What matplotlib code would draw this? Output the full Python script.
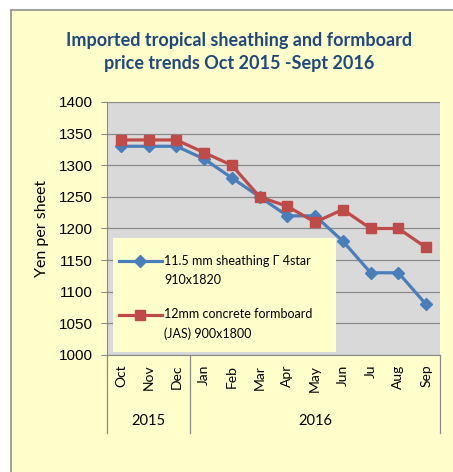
import matplotlib
matplotlib.use("Agg")
import matplotlib.pyplot as plt
from matplotlib.patches import Rectangle
from matplotlib.legend_handler import HandlerLine2D

# data
months = ['Oct', 'Nov', 'Dec', 'Jan', 'Feb', 'Mar', 'Apr', 'May', 'Jun', 'Ju', 'Aug', 'Sep']
years = ['2015', '2016']
year_counts = [3, 9]
sheathing = [1330, 1330, 1330, 1310, 1280, 1250, 1220, 1220, 1180, 1130, 1130, 1080]
formboard = [1340, 1340, 1340, 1320, 1300, 1250, 1235, 1210, 1230, 1200, 1200, 1170]
label_sheathing = '11.5 mm sheathing \u0393 4star\n910x1820'
label_formboard = '12mm concrete formboard\n(JAS) 900x1800'
yticks = list(range(1000, 1401, 50))

W, H = 453, 472
BG = '#FFFFCC'
BLUE = '#4A7EBB'
RED = '#BE4B48'
CAL = ['Lato', 'DejaVu Sans']


class UpHandler(HandlerLine2D):
    # put the legend line next to the first text line, like Excel does
    def create_artists(self, legend, orig_handle, xdescent, ydescent,
                       width, height, fontsize, trans):
        arts = super().create_artists(legend, orig_handle, xdescent, ydescent,
                                      width, height, fontsize, trans)
        for a in arts:
            a.set_ydata([y + 0.8 * fontsize for y in a.get_ydata()])
        return arts


fig = plt.figure(figsize=(W / 100, H / 100), dpi=100, facecolor='white')
fig.patches.append(Rectangle((11 / W, -0.01), 1.0, 1 - 10 / H + 0.01,
                             transform=fig.transFigure, facecolor=BG,
                             edgecolor='#8C8C8C', linewidth=1.2, zorder=-5))

ax = fig.add_axes([107 / W, (H - 355) / H, (440 - 107) / W, (355 - 102) / H])
ax.set_facecolor('#D9D9D9')

x = list(range(len(months)))
ax.plot(x, sheathing, color=BLUE, lw=2.3, marker='D', ms=6.5,
        label=label_sheathing, zorder=3)
ax.plot(x, formboard, color=RED, lw=2.3, marker='s', ms=6.5,
        label=label_formboard, zorder=3)

ax.set_xlim(-0.5, len(months) - 0.5)
ax.set_ylim(1000, 1400)
ax.set_yticks(yticks)
ax.set_yticklabels([str(v) for v in yticks], fontsize=11, family='Liberation Sans')
ax.yaxis.grid(True, color='#8A8A8A', lw=0.9)
ax.set_axisbelow(True)
ax.tick_params(axis='y', length=4, color='#8A8A8A', pad=6)

ax.set_xticks(x)
ax.set_xticklabels(months, rotation=90, fontsize=10, family=CAL)
ax.tick_params(axis='x', length=0, pad=7)

for s in ['top', 'right']:
    ax.spines[s].set_visible(False)
for s in ['left', 'bottom']:
    ax.spines[s].set_color('#8A8A8A')

# two-level category axis: separators and year labels
tr = ax.get_xaxis_transform()
edges = [-0.5]
for c in year_counts:
    edges.append(edges[-1] + c)
for e in edges:
    ax.plot([e, e], [0, -0.31], transform=tr, color='#8A8A8A', lw=0.9, clip_on=False)
for i, yr in enumerate(years):
    ax.text((edges[i] + edges[i + 1]) / 2, -0.262, yr, transform=tr,
            ha='center', va='center', fontsize=10.5, family=CAL)

ax.set_ylabel('Yen per sheet', fontsize=11.5, family=CAL, labelpad=7)

# legend box (Excel draws it bigger than the entries)
ax.add_patch(Rectangle((6 / 333, 3 / 253), 223 / 333, 114 / 253,
                       transform=ax.transAxes, facecolor=BG, edgecolor='none',
                       zorder=4))
leg = ax.legend(loc='upper left', bbox_to_anchor=(12 / 333, 100 / 253),
                handler_map={plt.Line2D: UpHandler()},
                prop={'family': CAL, 'size': 9}, frameon=False,
                borderpad=0, borderaxespad=0, labelspacing=1.8,
                handlelength=3.4, handletextpad=0.2)
leg.set_zorder(5)
for t in leg.get_texts():
    t.set_linespacing(1.7)

fig.text(239 / W, 1 - 52 / H,
         'Imported tropical sheathing and formboard\nprice trends Oct 2015 -Sept 2016',
         ha='center', va='center', fontsize=13, fontweight='bold',
         color='#1F497D', family=CAL, linespacing=1.45)

fig.savefig('out.png', dpi=100, facecolor=fig.get_facecolor())
